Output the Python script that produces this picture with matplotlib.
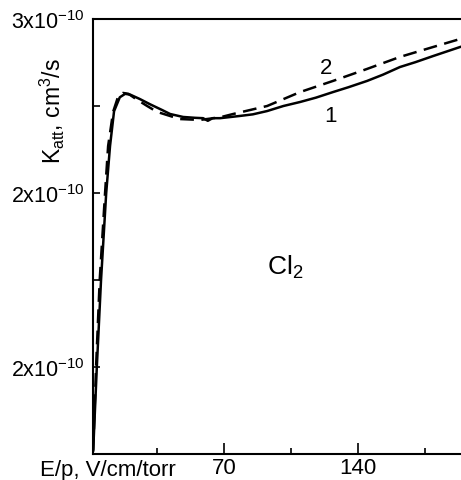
import matplotlib
matplotlib.use('Agg')
import matplotlib.pyplot as plt
from matplotlib.ticker import FixedLocator

plt.rcParams['font.family'] = ['Liberation Sans', 'DejaVu Sans']
plt.rcParams['mathtext.fontset'] = 'custom'
plt.rcParams['mathtext.rm'] = 'Liberation Sans'
plt.rcParams['mathtext.it'] = 'Liberation Sans'

# E/p (V/cm/torr) and K_att (units of 1e-10 cm^3/s)
ep_1 = [1.6, 3.5, 5.7, 8.4, 10.4, 12.5, 15.5, 18.3, 21, 26, 31.3, 37.6, 41.8, 48.6,
        55, 59, 61.5, 64, 67.9, 78.4, 85, 92.5, 101, 109.7, 118, 126.9, 135, 144.7,
        153, 161.9, 170, 179.2, 193.3]
katt_1 = [0.52, 1.0, 1.5, 2.0, 2.27, 2.47, 2.55, 2.57, 2.565, 2.54, 2.51, 2.477, 2.454, 2.437,
          2.432, 2.43, 2.415, 2.43, 2.43, 2.443, 2.452, 2.471, 2.50, 2.523, 2.548, 2.58, 2.608,
          2.644, 2.68, 2.724, 2.752, 2.787, 2.839]

ep_2 = [1.6, 3.1, 5.0, 7.8, 9.4, 12.0, 14.5, 17.2, 20, 24, 29.8, 35.0, 43.4, 47.0,
        57.5, 67.9, 74.7, 92.5, 109.7, 126.9, 144.7, 161.9, 179.2, 193.3]
katt_2 = [0.52, 1.0, 1.5, 2.0, 2.27, 2.466, 2.55, 2.575, 2.57, 2.54, 2.50, 2.466, 2.437, 2.425,
          2.42, 2.435, 2.454, 2.5, 2.58, 2.644, 2.713, 2.782, 2.839, 2.885]

y_ticks = [1, 2, 3]
y_ticklabels = [r'2x10$^{-10}$', r'2x10$^{-10}$', r'3x10$^{-10}$']
y_minor = [1.5, 2.5]
x_ticks = [70, 140]
x_minor = [35, 105, 175]

fig = plt.figure(figsize=(4.61, 4.81), dpi=100)
ax = fig.add_axes([93 / 461, 1 - 455 / 481, 1 - 93 / 461, (455 - 20) / 481])

ax.plot(ep_1, katt_1, color='black', lw=1.8, solid_joinstyle='round')
ax.plot(ep_2, katt_2, color='black', lw=1.8, dashes=(5.5, 3))

ax.set_xlim(1.5, 193.8)
ax.set_ylim(0.5, 3.0)

ax.yaxis.set_major_locator(FixedLocator(y_ticks))
ax.yaxis.set_minor_locator(FixedLocator(y_minor))
ax.set_yticklabels(y_ticklabels)
ax.xaxis.set_major_locator(FixedLocator(x_ticks))
ax.xaxis.set_minor_locator(FixedLocator(x_minor))
ax.set_xticklabels([str(t) for t in x_ticks])

ax.tick_params(which='both', direction='in', width=1.2)
ax.tick_params(axis='x', which='major', length=8, labelsize=16, pad=2.5)
ax.tick_params(axis='x', which='minor', length=4)
ax.tick_params(axis='y', which='major', length=5, labelsize=15.5, pad=6)
ax.tick_params(axis='y', which='minor', length=5)

for s in ['left', 'top', 'bottom']:
    ax.spines[s].set_linewidth(1.5)
ax.spines['right'].set_visible(False)

# axis titles and curve labels
fig.text(40 / 461, 1 - 460 / 481, 'E/p, V/cm/torr', fontsize=16, ha='left', va='top')
fig.text(52 / 461, 1 - 111 / 481, r'K$_{\mathrm{att}}$, cm$^3$/s', fontsize=16.5,
         rotation=90, ha='center', va='center')
ax.text(92.5, 1.534, r'Cl$_2$', fontsize=19, ha='left', va='baseline')
ax.text(123.3, 2.724, '2', fontsize=16, ha='center', va='center')
ax.text(125.4, 2.443, '1', fontsize=16, ha='center', va='center')

fig.savefig('out.png', dpi=100)
